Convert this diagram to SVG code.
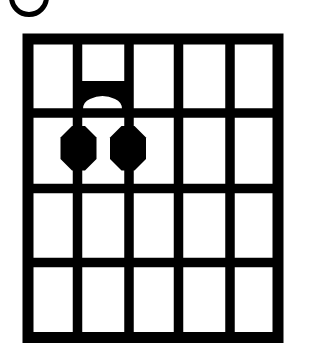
<svg xmlns="http://www.w3.org/2000/svg" width="325" height="361" viewBox="0 0 325 361">
<style>
.ln{stroke:#000;stroke-width:9.5;fill:none}
.fr{stroke:#000;stroke-width:11;fill:none}
.dot{fill:#000}
</style>
<rect width="325" height="361" fill="#fff"/>
<g id="open-marker">
<circle cx="29" cy="-3" r="17.5" fill="none" stroke="#000" stroke-width="5"/>
</g>
<g id="grid">
<rect class="fr" x="28" y="39" width="250" height="298.5"/>
<line class="ln" x1="77.5" y1="39" x2="77.5" y2="337"/>
<line class="ln" x1="129" y1="39" x2="129" y2="337"/>
<line class="ln" x1="178.5" y1="39" x2="178.5" y2="337"/>
<line class="ln" x1="230" y1="39" x2="230" y2="337"/>
<line class="ln" x1="28" y1="113" x2="278" y2="113"/>
<line class="ln" x1="28" y1="188.5" x2="278" y2="188.5"/>
<line class="ln" x1="28" y1="262.5" x2="278" y2="262.5"/>
</g>
<g id="connectors">
<path d="M77 81 H129 V109 H77 Z M83 109 Q83 102 90 99 Q102.5 93 115 99 Q122 102 122 109 Z" fill="#000" fill-rule="evenodd"/>
</g>
<g id="dot-1">
<polygon class="dot" points="72,126 85,126 96.5,137.5 96.5,159 85,170.5 72,170.5 60.5,159 60.5,137.5"/>
</g>
<g id="dot-2">
<polygon class="dot" points="121.5,126 134.5,126 146,137.5 146,159 134.5,170.5 121.5,170.5 110,159 110,137.5"/>
</g>
</svg>
